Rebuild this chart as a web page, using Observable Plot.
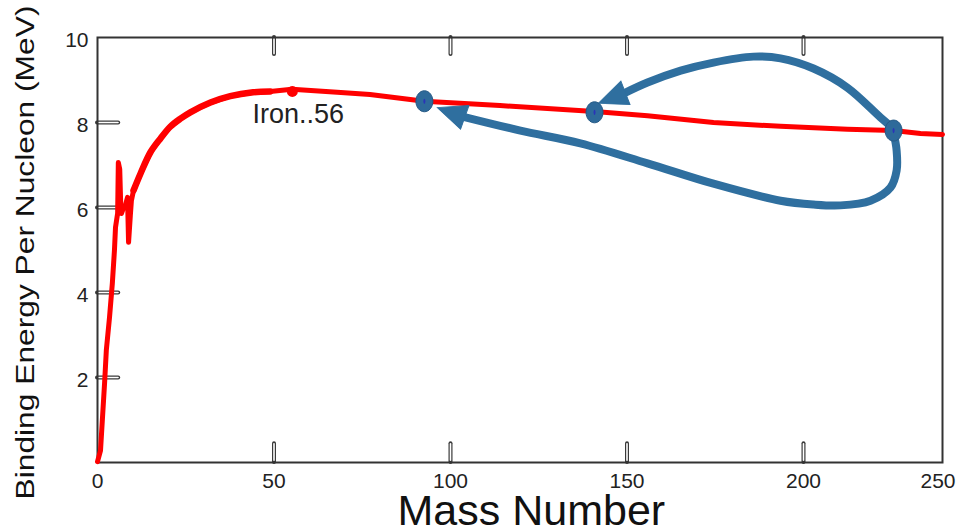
<!DOCTYPE html>
<html>
<head>
<meta charset="utf-8">
<script src="https://cdn.jsdelivr.net/npm/d3@7"></script>
<script src="https://cdn.jsdelivr.net/npm/@observablehq/plot@0.6"></script>
<style>
  html, body { margin: 0; padding: 0; background: #ffffff; }
  svg { display: block; }
</style>
</head>
<body>
<div id="chart"></div>
<script>
// ---- data ----
const massNumber = [0, 0.85, 2.0, 2.5, 3.4, 4.2, 4.8, 5.1, 5.7, 5.9, 6.3, 6.6, 6.8, 7.4, 7.9, 8.5, 8.8, 9.3, 9.6, 10.2, 12.2, 15.0, 17.8, 20.6, 23.5, 26.3, 32.0, 37.6, 44.1, 48.9, 55.1, 67.9, 77.2, 92.6, 114, 140.8, 155.8, 174.5, 193.5, 215.8, 232.4, 242.1, 250];
const bindingEnergy = [0.02, 0.28, 1.86, 2.64, 3.41, 4.21, 4.99, 5.53, 5.86, 7.06, 6.9, 6.0, 5.86, 6.0, 6.05, 6.24, 5.18, 5.81, 6.16, 6.4, 6.8, 7.3, 7.62, 7.9, 8.09, 8.24, 8.47, 8.62, 8.71, 8.73, 8.78, 8.71, 8.66, 8.50, 8.40, 8.26, 8.16, 8.0, 7.91, 7.84, 7.81, 7.74, 7.72];

const ironLabel = "Iron..56";
const ironMass = 55.2, ironEnergy = 8.73;
const ironLabelMass = 43.9, ironLabelEnergy = 8.18;

// fission markers (Kr, Ba, U)
const markerMass = [92.6, 140.8, 232.4];
const markerEnergy = [8.50, 8.24, 7.81];

// arrow shafts (annotation paths) and tips
const arrow1Mass = [232.4, 227.7, 215.8, 203.6, 193.5, 185.8, 174.5, 165.2, 155.8, 149.0];
const arrow1Energy = [7.86, 8.12, 8.82, 9.27, 9.51, 9.55, 9.41, 9.22, 8.94, 8.68];
const arrow2Mass = [232.4, 233.5, 233.5, 231.3, 224.1, 213.3, 203.6, 193.5, 174.5, 155.8, 136.8, 119.8, 103.4];
const arrow2Energy = [7.76, 7.34, 6.87, 6.47, 6.16, 6.05, 6.07, 6.16, 6.56, 7.04, 7.51, 7.81, 8.14];
const tipMass = [141.9, 96.3];
const tipEnergy = [8.45, 8.35];

const xTickValues = [0, 50, 100, 150, 200];
const xTickLabels = ["0", "50", "100", "150", "200"];
const xEndLabel = "250";
const yTickValues = [2, 4, 6, 8, 10];
const yTickLabels = ["2", "4", "6", "8", "10"];
const innerTicksX = [50, 100, 150, 200];
const innerTicksY = [2, 4, 6, 8];

const xTitle = "Mass Number";
const yTitle = "Binding Energy Per Nucleon (MeV)";

// ---- build ----
const curve = massNumber.map((a, i) => ({a, be: bindingEnergy[i]}));
const curveThick = curve.filter(d => d.a >= 10 && d.a <= 49);
const arrow1 = arrow1Mass.map((a, i) => ({a, be: arrow1Energy[i]}));
const arrow2 = arrow2Mass.map((a, i) => ({a, be: arrow2Energy[i]}));
const markers = markerMass.map((a, i) => ({a, be: markerEnergy[i]}));

const xDomain = [0, 200, 250], xRange = [97, 803, 942];
const yDomain = [0, 10], yRange = [462, 37];
const xs = d3.scaleLinear(xDomain, xRange);
const ys = d3.scaleLinear(yDomain, yRange);
function headAngle(baseA, baseBE, tA, tBE) {
  const dx = xs(tA) - xs(baseA), dy = ys(tBE) - ys(baseBE);
  return Math.atan2(dx, -dy) * 180 / Math.PI;
}
const tips = [
  {a: tipMass[0], be: tipEnergy[0], rot: headAngle(arrow1Mass.at(-1), arrow1Energy.at(-1), tipMass[0], tipEnergy[0])},
  {a: tipMass[1], be: tipEnergy[1], rot: headAngle(arrow2Mass.at(-1), arrow2Energy.at(-1), tipMass[1], tipEnergy[1])}
];

function ellipseSymbol(rx, ry) {
  const k = 0.5523;
  return {draw(ctx) {
    ctx.moveTo(rx, 0);
    ctx.bezierCurveTo(rx, ry * k, rx * k, ry, 0, ry);
    ctx.bezierCurveTo(-rx * k, ry, -rx, ry * k, -rx, 0);
    ctx.bezierCurveTo(-rx, -ry * k, -rx * k, -ry, 0, -ry);
    ctx.bezierCurveTo(rx * k, -ry, rx, -ry * k, rx, 0);
    ctx.closePath();
  }};
}
const headSymbol = {draw(ctx) {
  ctx.moveTo(0, 0);
  ctx.lineTo(-12.5, 29);
  ctx.lineTo(12.5, 29);
  ctx.closePath();
}};

const blue = "#2f6f9f";
const tickDark = "#3a3a3a";
const font = "Liberation Sans, Arial, Helvetica, sans-serif";

const plot = Plot.plot({
  width: 959,
  height: 530,
  marginLeft: 97, marginRight: 17, marginTop: 37, marginBottom: 68,
  x: {type: "linear", domain: xDomain, range: xRange, axis: null},
  y: {type: "linear", domain: yDomain, range: yRange, axis: null},
  style: {fontFamily: font, background: "#ffffff", overflow: "visible"},
  marks: [
    // inward ticks drawn as outlined slivers
    Plot.ruleX(innerTicksX, {x: d => d, y1: 0, y2: 0.44, stroke: tickDark, strokeWidth: 4, strokeLinecap: "round"}),
    Plot.ruleX(innerTicksX, {x: d => d, y1: 0.04, y2: 0.43, stroke: "#fff", strokeWidth: 1.6, strokeLinecap: "round"}),
    Plot.ruleX(innerTicksX, {x: d => d, y1: 10, y2: 9.6, stroke: tickDark, strokeWidth: 4, strokeLinecap: "round"}),
    Plot.ruleX(innerTicksX, {x: d => d, y1: 9.96, y2: 9.61, stroke: "#fff", strokeWidth: 1.6, strokeLinecap: "round"}),
    Plot.ruleY(innerTicksY, {y: d => d, x1: 0, x2: 6.0, stroke: tickDark, strokeWidth: 4, strokeLinecap: "round"}),
    Plot.ruleY(innerTicksY, {y: d => d, x1: 0.4, x2: 5.95, stroke: "#fff", strokeWidth: 1.6, strokeLinecap: "round"}),
    Plot.frame({stroke: "#333", strokeWidth: 2}),
    // binding-energy curve
    Plot.line(curve, {x: "a", y: "be", stroke: "#ff0000", strokeWidth: 5, strokeLinejoin: "round"}),
    Plot.line(curveThick, {x: "a", y: "be", stroke: "#ff0000", strokeWidth: 6.5, strokeLinejoin: "round", strokeLinecap: "round", curve: "catmull-rom"}),
    Plot.dot([{a: ironMass, be: ironEnergy}], {x: "a", y: "be", r: 5.5, fill: "#ff0000"}),
    Plot.text([{a: ironLabelMass, be: ironLabelEnergy}], {x: "a", y: "be", text: () => ironLabel, textAnchor: "start", lineAnchor: "middle", fontSize: 27, fill: "#222"}),
    // fission arrows
    Plot.line(arrow1, {x: "a", y: "be", stroke: blue, strokeWidth: 8, strokeLinecap: "round", strokeLinejoin: "round", curve: "catmull-rom"}),
    Plot.line(arrow2, {x: "a", y: "be", stroke: blue, strokeWidth: 8, strokeLinecap: "round", strokeLinejoin: "round", curve: "catmull-rom"}),
    Plot.dot(tips, {x: "a", y: "be", rotate: "rot", symbol: headSymbol, fill: blue, stroke: blue, strokeWidth: 1}),
    Plot.dot(markers, {x: "a", y: "be", symbol: ellipseSymbol(8.5, 10.5), fill: "#2e6a9a", stroke: "#245985", strokeWidth: 1}),
    Plot.dot(markers, {x: "a", y: "be", symbol: ellipseSymbol(1, 2.6), fill: "#2a34b8"}),
    // tick labels
    Plot.text(xTickValues, {x: d => d, y: 0, text: (d, i) => xTickLabels[i], dy: 19, fontSize: 21, fill: "#222", lineAnchor: "middle", textAnchor: "middle"}),
    Plot.text([250], {x: d => d, y: 0, text: () => xEndLabel, dy: 19, dx: 13, textAnchor: "end", fontSize: 21, fill: "#222", lineAnchor: "middle"}),
    Plot.text(yTickValues, {x: 0, y: d => d, text: (d, i) => yTickLabels[i], dx: -9, dy: 2.5, textAnchor: "end", fontSize: 21, fill: "#222", lineAnchor: "middle"}),
    // axis titles
    Plot.text([xTitle], {x: 122.9, y: 0, text: d => d, dy: 49, fontSize: 43, fill: "#111", lineAnchor: "middle", textAnchor: "middle"}),
    Plot.text([yTitle], {frameAnchor: "left", text: d => d, dx: -71.6, dy: 2.5, rotate: -90, fontSize: 25, fill: "#111", lineAnchor: "middle", textAnchor: "middle"})
  ]
});

// stretch the y title along its length as in the reference
d3.select(plot).selectAll("text").filter(function() { return this.textContent === yTitle; })
  .each(function() {
    const t = this.getAttribute("transform") || "";
    this.setAttribute("transform", t + " scale(1.27,1)");
  });

document.getElementById("chart").appendChild(plot);
</script>
</body>
</html>
